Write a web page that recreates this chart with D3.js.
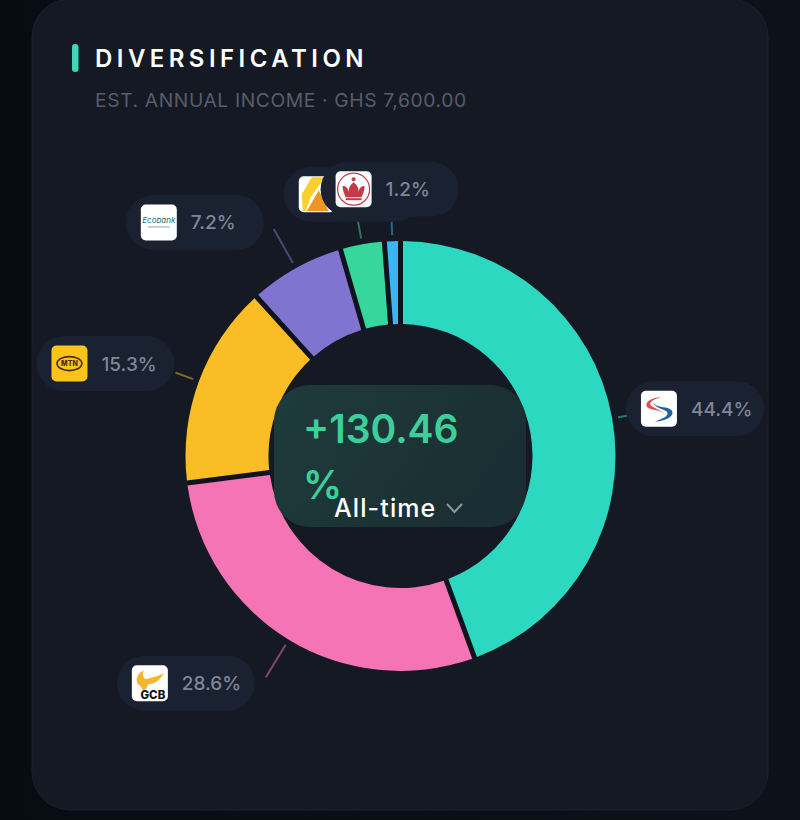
<!DOCTYPE html>
<html><head><meta charset="utf-8">
<script src="https://cdn.jsdelivr.net/npm/d3@7/dist/d3.min.js"></script>
<style>html,body{margin:0;padding:0;background:#0a0e15}svg{display:block}text{font-family:Inter,"Noto Sans",sans-serif}</style>
</head><body><svg id="c" width="800" height="820"></svg>
<script>
const holdings = ["Stanbic","GCB","MTN","Ecobank","Access","Kasapreko"];
const shares = [44.4,28.6,15.3,7.2,3.3,1.2];
const shareLabels = ["44.4%","28.6%","15.3%","7.2%","","1.2%"];
const colours = ["#2dd8c0","#f574b6","#fbbd26","#8074d0","#36d69c","#38b6f5"];
const leaderEnds = [230,259,240,260,240,236];
const pillOffsets = [[-1,-7],[-11,6],[-1,-9],[-10,-6.5],[-5,-25.5],[-2,-31]];
const pillSides = ["start","end","end","end","mid","mid"];

const svg = d3.select("#c");
const cx=400.5, cy=456, R=215, r=132;
const defs = svg.append("defs");
const bg = defs.append("linearGradient").attr("id","side").attr("x1",0).attr("x2",1);
bg.append("stop").attr("offset",0).attr("stop-color","#070b12");
bg.append("stop").attr("offset",1).attr("stop-color","#0d1119");
const cg = defs.append("linearGradient").attr("id","mid").attr("x1",0).attr("x2",1).attr("y1",0).attr("y2",.4);
cg.append("stop").attr("offset",0).attr("stop-color","#1f3b3b");
cg.append("stop").attr("offset",1).attr("stop-color","#1a2f33");

svg.append("rect").attr("width",800).attr("height",820).attr("fill","url(#side)");
svg.append("rect").attr("x",32).attr("y",-1).attr("width",736).attr("height",811).attr("rx",38)
  .attr("fill","#141924").attr("stroke","#1a202c").attr("stroke-width",1);

svg.append("rect").attr("x",72).attr("y",44).attr("width",6.5).attr("height",28).attr("rx",3.2).attr("fill","#3fd8b6");
svg.append("text").attr("x",95).attr("y",67).attr("fill","#fff").attr("font-size",24).attr("font-weight",600)
  .attr("letter-spacing",4.45).text("DIVERSIFICATION");
svg.append("text").attr("x",95).attr("y",107).attr("fill","#575d6c").attr("font-size",19.3).attr("letter-spacing",.6)
  .text("EST. ANNUAL INCOME · GHS 7,600.00");

const pie = d3.pie().value(d=>d).sort(null);
const arcs = pie(shares);
const arc = d3.arc().innerRadius(r).outerRadius(R).padAngle(5/R).padRadius(R);
const g = svg.append("g").attr("transform",`translate(${cx},${cy})`);
g.append("path").attr("d",d3.arc().innerRadius(r).outerRadius(R)({startAngle:0,endAngle:2*Math.PI})).attr("fill","#0f131d");
g.selectAll("path.slice").data(arcs).join("path").attr("class","slice").attr("d",arc).attr("fill",(d,i)=>colours[i]);

const mid = d=>(d.startAngle+d.endAngle)/2;
const polar = (a,rad)=>[rad*Math.sin(a),-rad*Math.cos(a)];
g.selectAll("line").data(arcs).join("line")
  .attr("x1",d=>polar(mid(d),221)[0]).attr("y1",d=>polar(mid(d),221)[1])
  .attr("x2",(d,i)=>polar(mid(d),leaderEnds[i])[0]).attr("y2",(d,i)=>polar(mid(d),leaderEnds[i])[1])
  .attr("stroke",(d,i)=>colours[i]).attr("stroke-opacity",.5).attr("stroke-width",2);

function logo(sel,name){
  sel.append("rect").attr("width",36).attr("height",36).attr("rx",5).attr("fill",name==="MTN"?"#fcc419":"#fff");
  if(name==="Stanbic"){
    sel.append("path").attr("d","M21 6C11 7 3 11 6 16C8 20 20 18 24 24C22 20 14 18 10 15C7 11 14 8 21 6Z").attr("fill","#e0504e");
    sel.append("path").attr("d","M14 31C24 30 34 26 31 20C28 15 16 18 12 12C14 17 22 18 26 21C29 25 21 28 14 31Z").attr("fill","#23609f");
  } else if(name==="GCB"){
    sel.append("path").attr("d","M6 19C3 13 6 8 12 5C10 9 11 12 14 14C20 12 26 11 32 8C28 15 23 19 16 19C16 22 14 24 11 26C11 23 9 21 6 19Z").attr("fill","#f6b52f");
    sel.append("text").attr("x",21).attr("y",33.5).attr("text-anchor","middle").attr("font-size",11.5).attr("font-weight",800).attr("fill","#111").text("GCB");
  } else if(name==="MTN"){
    sel.append("ellipse").attr("cx",18).attr("cy",18).attr("rx",12.5).attr("ry",7).attr("fill","none").attr("stroke","#4a2d0a").attr("stroke-width",1.6);
    sel.append("text").attr("x",18).attr("y",20.6).attr("text-anchor","middle").attr("font-size",7).attr("font-weight",800).attr("fill","#4a2d0a").text("MTN");
  } else if(name==="Ecobank"){
    sel.append("text").attr("x",18).attr("y",19).attr("text-anchor","middle").attr("font-size",8).attr("font-style","italic").attr("fill","#1f6f7d").text("Ecobank");
    sel.append("rect").attr("x",7).attr("y",22).attr("width",22).attr("height",1).attr("fill","#8aa9b0");
  } else if(name==="Access"){
    sel.append("path").attr("d","M3 18L13 1H26L12 21L7 35H4Z").attr("fill","#fbd02c");
    sel.append("path").attr("d","M20 14L30 35H8Z").attr("fill","#ee9522");
  } else {
    sel.append("circle").attr("cx",18).attr("cy",18).attr("r",16).attr("fill","none").attr("stroke","#c43a48").attr("stroke-width",1.2);
    sel.append("path").attr("d","M7 15C11 14 13 19 13 21C13 17 14 14 18 11C22 14 23 17 23 21C23 19 25 14 29 15C29 20 27 23 26 26H10C9 23 7 20 7 15Z").attr("fill","#c43a48");
    sel.append("rect").attr("x",10).attr("y",27).attr("width",16).attr("height",2).attr("fill","#c43a48");
    sel.append("circle").attr("cx",18).attr("cy",8).attr("r",2).attr("fill","#c43a48");
  }
}

arcs.forEach((d,i)=>{
  const [ex,ey]=polar(mid(d),leaderEnds[i]);
  const w=138, h=55;
  const px = cx+ex+pillOffsets[i][0] - (pillSides[i]==="end"?w:pillSides[i]==="mid"?w/2:0);
  const py = cy+ey+pillOffsets[i][1] - h/2;
  const p = svg.append("g").attr("transform",`translate(${px},${py})`);
  p.append("rect").attr("width",w).attr("height",h).attr("rx",27.5).attr("fill","#1a2130");
  logo(p.append("g").attr("transform","translate(15,9.5)"),holdings[i]);
  p.append("text").attr("x",65).attr("y",34.5).attr("fill","#7f8697").attr("font-size",19).attr("font-weight",500).text(shareLabels[i]);
});

svg.append("rect").attr("x",274).attr("y",385).attr("width",252).attr("height",142).attr("rx",36).attr("fill","url(#mid)");
const t=svg.append("text").attr("fill","#3dcf9b").attr("font-size",39).attr("font-weight",600);
t.append("tspan").attr("x",303).attr("y",443).text("+130.46");
t.append("tspan").attr("x",303).attr("y",499).text("%");
svg.append("text").attr("x",334).attr("y",517).attr("fill","#fff").attr("font-size",25).attr("font-weight",500).attr("letter-spacing",1.1).text("All-time");
svg.append("path").attr("d","M447 504L454.5 512L462 504").attr("fill","none").attr("stroke","#8d9ba0").attr("stroke-width",2);
</script></body></html>
